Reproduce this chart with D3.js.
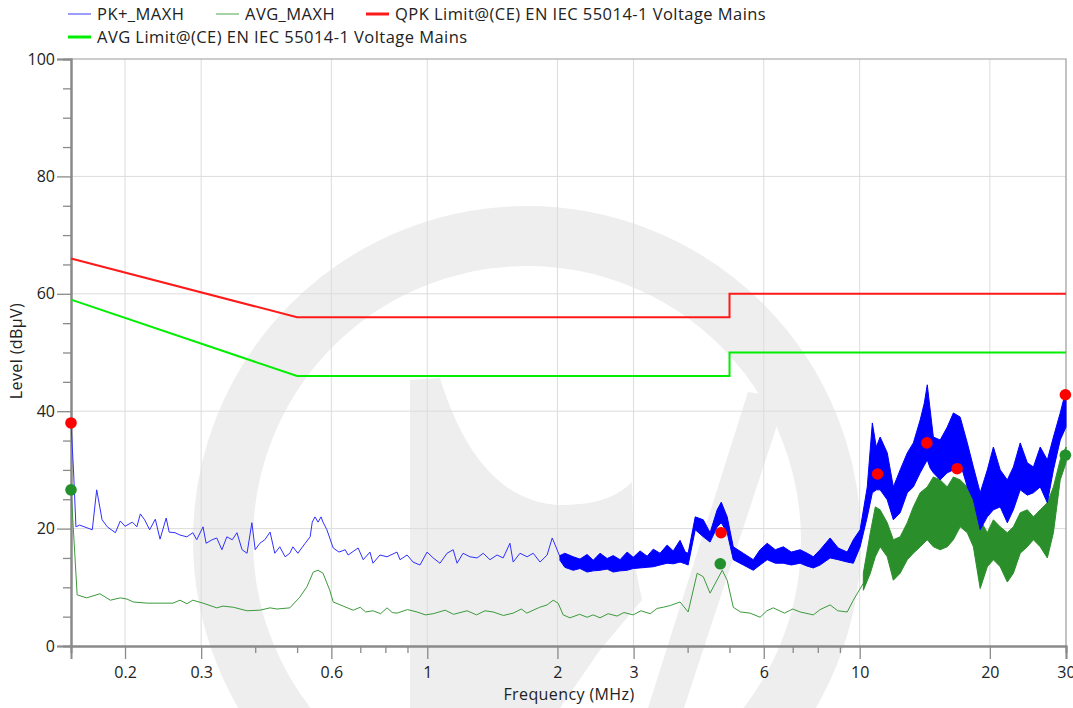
<!DOCTYPE html>
<html>
<head>
<meta charset="utf-8">
<script src="https://cdn.jsdelivr.net/npm/d3@7"></script>
<style>
  body { margin: 0; background: #fff; }
  text { font-family: "Open Sans", "Noto Sans", sans-serif; }
</style>
</head>
<body>
<svg id="vis"></svg>
<script>
// page size
const width = 1073;
const height = 708;
const plot = {left: 71, right: 1066, top: 59, bottom: 646};

// axes
const xTickLabels = [0.2, 0.3, 0.6, 1, 2, 3, 6, 10, 20, 30];
const xMinorTicks = [0.4, 0.5, 0.7, 0.8, 0.9, 4, 5, 7, 8, 9];
const yTicks = [0, 20, 40, 60, 80, 100];
const yMinorTicks = [5, 10, 15, 25, 30, 35, 45, 50, 55, 65, 70, 75, 85, 90, 95];

// limit lines (MHz, dBuV)
const qpkLimit = [[0.15, 66], [0.5, 56], [5, 56], [5, 60], [30, 60]];
const avgLimit = [[0.15, 59], [0.5, 46], [5, 46], [5, 50], [30, 50]];

// PK+ trace (MHz, dBuV)
const pkTrace = [
  [0.150, 38.0], [0.152, 30.0], [0.154, 20.3], [0.157, 20.6], [0.168, 19.8], [0.172, 26.6],
  [0.177, 21.5], [0.182, 20.3], [0.190, 19.3], [0.195, 21.3], [0.200, 20.4], [0.208, 21.1],
  [0.213, 20.3], [0.217, 22.5], [0.222, 21.5], [0.228, 19.8], [0.235, 21.6], [0.241, 18.2],
  [0.249, 21.8], [0.253, 19.4], [0.261, 19.3], [0.268, 18.9], [0.278, 18.6], [0.287, 19.3],
  [0.293, 18.1], [0.303, 20.3], [0.308, 17.5], [0.318, 18.1], [0.326, 18.4], [0.335, 16.4],
  [0.344, 18.6], [0.354, 18.1], [0.363, 19.3], [0.373, 16.4], [0.383, 15.8], [0.393, 21.0],
  [0.400, 16.4], [0.410, 17.5], [0.421, 18.1], [0.433, 19.4], [0.444, 15.8], [0.456, 16.9],
  [0.469, 15.2], [0.481, 15.8], [0.489, 16.9], [0.502, 15.8], [0.522, 17.5], [0.536, 18.6],
  [0.542, 21.1], [0.550, 22.0], [0.559, 21.1], [0.568, 22.0], [0.574, 21.1], [0.586, 19.8],
  [0.606, 16.7], [0.625, 16.0], [0.646, 16.4], [0.656, 15.5], [0.692, 16.7], [0.711, 14.7],
  [0.737, 16.0], [0.749, 14.1], [0.777, 15.5], [0.807, 15.2], [0.851, 16.0], [0.865, 14.7],
  [0.898, 15.5], [0.927, 14.3], [0.962, 13.8], [0.999, 16.0], [1.032, 15.0], [1.070, 14.1],
  [1.111, 15.8], [1.148, 16.4], [1.172, 14.1], [1.210, 15.8], [1.255, 15.2], [1.304, 15.0],
  [1.347, 15.8], [1.396, 14.7], [1.450, 15.5], [1.498, 15.0], [1.553, 17.5], [1.580, 14.3],
  [1.638, 15.8], [1.702, 15.2], [1.758, 15.8], [1.823, 14.3], [1.893, 15.5], [1.945, 18.4],
  [1.976, 17.2], [2.027, 15.2]
];

// PK+ trace where it is a dense band (MHz, low, high)
const pkBand = [
  [2.027, 14.6, 15.4], [2.080, 13.4, 15.8], [2.175, 12.9, 15.2], [2.255, 13.2, 14.8],
  [2.342, 12.6, 15.6], [2.420, 12.8, 14.6], [2.509, 12.9, 15.8], [2.606, 13.1, 14.9],
  [2.692, 12.6, 15.4], [2.791, 12.8, 14.7], [2.899, 12.9, 16.0], [2.994, 13.2, 15.1],
  [3.105, 13.3, 16.2], [3.225, 13.4, 15.3], [3.331, 13.5, 16.5], [3.454, 13.8, 15.8],
  [3.587, 14.1, 17.2], [3.705, 14.0, 16.2], [3.842, 14.3, 18.0], [3.950, 14.0, 16.0],
  [4.011, 13.8, 15.8], [4.166, 19.8, 22.0], [4.348, 18.6, 21.5], [4.508, 17.7, 19.3],
  [4.682, 20.3, 23.2], [4.785, 21.0, 24.5], [4.938, 19.3, 22.0], [5.101, 14.7, 16.9],
  [5.380, 13.8, 15.8], [5.674, 12.9, 14.7], [5.884, 13.8, 16.4], [6.111, 14.7, 17.5],
  [6.379, 14.1, 16.4], [6.658, 14.1, 16.9], [6.948, 13.8, 16.0], [7.281, 14.1, 16.4],
  [7.562, 13.6, 15.8], [7.812, 13.3, 15.2], [8.100, 13.8, 16.4], [8.543, 15.0, 18.4],
  [8.919, 14.7, 16.7], [9.358, 14.3, 16.0], [9.667, 14.1, 18.1], [10.024, 16.9, 19.8],
  [10.411, 22.0, 27.1], [10.697, 26.1, 38.0], [10.924, 26.6, 33.9], [11.151, 26.6, 35.6],
  [11.581, 24.9, 32.9], [11.963, 21.5, 27.1], [12.404, 22.7, 30.0], [12.884, 26.1, 32.9],
  [13.308, 27.1, 34.6], [13.799, 29.5, 38.5], [14.110, 30.8, 41.4], [14.332, 31.7, 44.5],
  [14.555, 30.3, 40.2], [14.805, 29.5, 35.6], [15.351, 28.3, 35.1], [15.943, 29.5, 37.3],
  [16.469, 30.0, 39.7], [17.077, 31.2, 39.0], [17.736, 27.1, 34.6], [18.321, 24.9, 30.5],
  [18.997, 19.8, 26.1], [19.731, 22.0, 30.0], [20.381, 23.2, 33.9], [21.133, 23.7, 30.0],
  [21.949, 21.0, 28.3], [22.672, 23.2, 30.5], [23.509, 26.6, 34.6], [24.417, 25.7, 31.2],
  [25.221, 26.1, 30.5], [26.152, 27.1, 33.9], [27.162, 24.4, 31.7], [28.057, 30.0, 35.6],
  [29.092, 35.1, 39.7], [30.000, 37.3, 43.6]
];

// AVG trace (MHz, dBuV)
const avgTrace = [
  [0.150, 26.6], [0.151, 23.2], [0.155, 8.7], [0.163, 8.2], [0.175, 8.9], [0.185, 7.8],
  [0.195, 8.2], [0.202, 8.0], [0.209, 7.5], [0.225, 7.3], [0.241, 7.3], [0.258, 7.3],
  [0.268, 7.8], [0.278, 7.2], [0.287, 7.8], [0.303, 7.3], [0.326, 6.5], [0.337, 6.8],
  [0.356, 6.6], [0.383, 6.0], [0.410, 6.1], [0.433, 6.5], [0.449, 6.3], [0.481, 6.5],
  [0.507, 8.3], [0.527, 10.1], [0.545, 12.6], [0.559, 12.9], [0.574, 12.4], [0.595, 9.5],
  [0.606, 7.5], [0.639, 6.8], [0.674, 6.1], [0.700, 6.6], [0.720, 5.8], [0.749, 6.0],
  [0.780, 5.5], [0.807, 6.5], [0.830, 5.7], [0.851, 5.6], [0.900, 6.2], [0.947, 5.8],
  [0.990, 5.3], [1.032, 5.5], [1.100, 6.1], [1.150, 5.4], [1.236, 6.0], [1.300, 5.3],
  [1.360, 6.0], [1.420, 5.8], [1.500, 5.2], [1.580, 5.6], [1.650, 6.3], [1.700, 5.6],
  [1.758, 6.1], [1.820, 6.6], [1.893, 7.0], [1.955, 7.8], [2.007, 7.3], [2.062, 5.3],
  [2.138, 4.8], [2.250, 5.4], [2.342, 4.9], [2.420, 5.3], [2.509, 4.8], [2.620, 5.5],
  [2.748, 5.1], [2.850, 5.7], [2.994, 5.3], [3.120, 6.0], [3.278, 5.5], [3.400, 6.4],
  [3.513, 6.6], [3.650, 6.9], [3.842, 7.5], [4.011, 5.8], [4.209, 12.4], [4.348, 11.8],
  [4.508, 9.0], [4.810, 12.9], [4.938, 11.2], [5.101, 6.6], [5.300, 5.8], [5.579, 5.6],
  [5.884, 4.9], [6.100, 6.0], [6.312, 6.5], [6.700, 5.6], [7.000, 6.3], [7.281, 5.8],
  [7.812, 5.3], [8.100, 6.2], [8.543, 7.0], [8.900, 6.0], [9.358, 5.8], [9.667, 7.8],
  [10.196, 10.7]
];

// AVG trace where it is a dense band (MHz, low, high)
const avgBand = [
  [10.196, 9.5, 12.4], [10.583, 12.4, 19.3], [10.867, 15.2, 23.7], [11.151, 16.9, 23.2],
  [11.581, 15.2, 21.0], [11.963, 11.2, 18.1], [12.404, 12.4, 18.6], [12.884, 14.7, 21.0],
  [13.308, 15.8, 23.7], [13.799, 16.9, 26.1], [14.332, 18.1, 27.1], [14.805, 16.9, 28.8],
  [15.351, 16.4, 28.3], [15.943, 16.9, 27.1], [16.469, 18.1, 28.8], [17.077, 20.3, 28.3],
  [17.736, 19.3, 27.1], [18.321, 16.9, 25.4], [18.997, 9.8, 21.5], [19.731, 13.5, 19.3],
  [20.381, 14.7, 21.5], [21.133, 13.5, 20.3], [21.949, 10.9, 19.3], [22.672, 12.4, 20.3],
  [23.509, 15.8, 22.7], [24.417, 16.9, 23.2], [25.221, 18.1, 22.0], [26.152, 16.9, 23.2],
  [27.162, 15.0, 24.4], [28.057, 19.3, 27.1], [29.092, 28.3, 31.7], [30.000, 31.2, 33.9]
];

// final measurement markers (MHz, dBuV)
const pkMarks = [[0.15, 38.0], [4.78, 19.3], [11.0, 29.3], [14.3, 34.6], [16.8, 30.2], [29.9, 42.8]];
const avgMarks = [[0.15, 26.6], [4.76, 14.0], [29.9, 32.5]];

const legendItems = [
  {label: "PK+_MAXH", color: "#5a5aff", w: 1.2},
  {label: "AVG_MAXH", color: "#6cb86c", w: 1.2},
  {label: "QPK Limit@(CE) EN IEC 55014-1 Voltage Mains", color: "#ff1a1a", w: 3},
  {label: "AVG Limit@(CE) EN IEC 55014-1 Voltage Mains", color: "#00ee00", w: 3}
];

const x = d3.scaleLog().domain([0.15, 30]).range([plot.left, plot.right]);
const y = d3.scaleLinear().domain([0, 100]).range([plot.bottom, plot.top]);

const svg = d3.select("#vis").attr("width", width).attr("height", height);

// faint logo watermark behind the chart (rough shape)
const wm = svg.append("g").attr("fill", "#eeeeee");
wm.append("circle").attr("cx", 527).attr("cy", 540).attr("r", 304)
  .attr("fill", "none").attr("stroke", "#eeeeee").attr("stroke-width", 60);
wm.append("path")
  .attr("d", "M410,380 L440,378 C462,450 500,503 560,505 C598,505 618,496 632,482 L634,560 L642,600 L600,650 L560,708 L410,708 Z");
wm.append("path")
  .attr("d", "M748,392 L786,398 L684,708 L648,708 Z");

// grid lines
svg.append("g").selectAll("line").data([20, 40, 60, 80]).join("line")
  .attr("x1", plot.left).attr("x2", plot.right)
  .attr("y1", d => y(d)).attr("y2", d => y(d))
  .attr("stroke", "#dcdcdc");
svg.append("g").selectAll("line").data(xTickLabels.slice(0, -1)).join("line")
  .attr("x1", d => x(d)).attr("x2", d => x(d))
  .attr("y1", plot.top).attr("y2", plot.bottom)
  .attr("stroke", "#dcdcdc");

// frame top and right
svg.append("path")
  .attr("d", `M${plot.left},${plot.top}H${plot.right}V${plot.bottom}`)
  .attr("fill", "none").attr("stroke", "#9a9a9a").attr("stroke-width", 1.2);

// axes
function styleAxis(g) {
  g.select(".domain").attr("stroke", "#8a8a8a").attr("stroke-width", 2);
  g.selectAll(".tick line").attr("stroke", "#8a8a8a").attr("stroke-width", 1.3);
  g.selectAll(".tick text").attr("fill", "#222").attr("font-size", 16);
}
svg.append("g").attr("transform", `translate(${plot.left},0)`)
  .call(d3.axisLeft(y).tickValues(yMinorTicks).tickSize(8).tickFormat(""))
  .call(styleAxis);
svg.append("g").attr("transform", `translate(${plot.left},0)`)
  .call(d3.axisLeft(y).tickValues(yTicks).tickSize(14).tickPadding(2))
  .call(styleAxis);
svg.append("g").attr("transform", `translate(0,${plot.bottom})`)
  .call(d3.axisBottom(x).tickValues(xMinorTicks).tickSize(7).tickFormat(""))
  .call(styleAxis);
svg.append("g").attr("transform", `translate(0,${plot.bottom})`)
  .call(d3.axisBottom(x).tickValues(xTickLabels).tickSize(13).tickPadding(8).tickFormat(d => String(d)))
  .call(styleAxis);

svg.append("text").attr("x", 569).attr("y", 700).attr("text-anchor", "middle")
  .attr("font-size", 16).attr("letter-spacing", 0.4).attr("fill", "#222").text("Frequency (MHz)");
svg.append("text").attr("transform", "translate(22,351) rotate(-90)").attr("text-anchor", "middle")
  .attr("font-size", 16).attr("letter-spacing", 0.4).attr("fill", "#222").text("Level (dBµV)");

// traces
const line = d3.line().x(d => x(d[0])).y(d => y(d[1]));
const band = d3.area().x(d => x(d[0])).y0(d => y(d[1])).y1(d => y(d[2]));

svg.append("path").datum(avgTrace).attr("d", line)
  .attr("fill", "none").attr("stroke", "#3c9a3c").attr("stroke-width", 1);
svg.append("path").datum(avgBand).attr("d", band)
  .attr("fill", "#2a8f2a").attr("stroke", "#2a8f2a").attr("stroke-width", 1);

svg.append("path").datum(pkTrace).attr("d", line)
  .attr("fill", "none").attr("stroke", "#3030ff").attr("stroke-width", 1);
svg.append("path").datum(pkBand).attr("d", band)
  .attr("fill", "#0000ff").attr("stroke", "#0000ff").attr("stroke-width", 1);

// limits
svg.append("path").datum(qpkLimit).attr("d", line)
  .attr("fill", "none").attr("stroke", "#ff1a1a").attr("stroke-width", 2);
svg.append("path").datum(avgLimit).attr("d", line)
  .attr("fill", "none").attr("stroke", "#00ee00").attr("stroke-width", 2);

// markers
svg.append("g").selectAll("circle").data(avgMarks).join("circle")
  .attr("cx", d => x(d[0])).attr("cy", d => y(d[1])).attr("r", 5.8).attr("fill", "#23912b");
svg.append("g").selectAll("circle").data(pkMarks).join("circle")
  .attr("cx", d => x(d[0])).attr("cy", d => y(d[1])).attr("r", 5.8).attr("fill", "#ff0000");

// legend
const legendPos = [[68, 14], [216, 14], [366, 14], [68, 37]];
const lg = svg.append("g").selectAll("g").data(legendItems).join("g")
  .attr("transform", (d, i) => `translate(${legendPos[i][0]},${legendPos[i][1]})`);
lg.append("line").attr("x1", 0).attr("x2", 23)
  .attr("stroke", d => d.color).attr("stroke-width", d => d.w);
lg.append("text").attr("x", 29).attr("y", 6).attr("font-size", 16.5).attr("letter-spacing", 0.45)
  .attr("fill", "#222").text(d => d.label);
</script>
</body>
</html>
